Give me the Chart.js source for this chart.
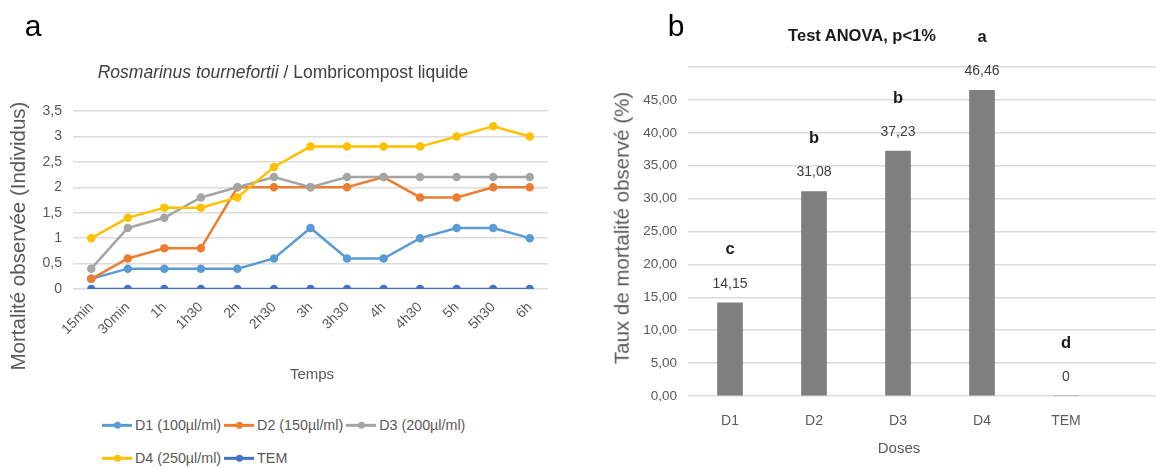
<!DOCTYPE html>
<html><head><meta charset="utf-8">
<script src="https://cdn.jsdelivr.net/npm/chart.js@4.4.1/dist/chart.umd.min.js"></script>
<style>
html,body{margin:0;padding:0;background:#fff;width:1156px;height:468px;overflow:hidden;position:relative}
canvas{position:absolute}
.t{position:absolute;white-space:nowrap;color:#595959;transform:translate(-50%,-50%);line-height:1}
.row{position:absolute;left:102px;white-space:nowrap;color:#595959;line-height:1;transform:translateY(-50%);display:flex;align-items:center}
.sw{display:inline-block;position:relative;width:30px;height:3px;margin-right:3px}
.sw i{position:absolute;left:12px;top:-2px;width:7px;height:7px;border-radius:50%}
.it{margin-right:3px}
</style></head><body>
<canvas id="c1" width="580" height="400" style="left:0;top:0"></canvas>
<canvas id="c2" width="576" height="468" style="left:580px;top:0"></canvas>
<div id="texts"></div>
<script>
// ---------- data ----------
const timeLabels = ['15min','30min','1h','1h30','2h','2h30','3h','3h30','4h','4h30','5h','5h30','6h'];
const seriesNames = ['D1 (100µl/ml)','D2 (150µl/ml)','D3 (200µl/ml)','D4 (250µl/ml)','TEM'];
const d1  = [0.2,0.4,0.4,0.4,0.4,0.6,1.2,0.6,0.6,1.0,1.2,1.2,1.0];
const d2  = [0.2,0.6,0.8,0.8,2.0,2.0,2.0,2.0,2.2,1.8,1.8,2.0,2.0];
const d3  = [0.4,1.2,1.4,1.8,2.0,2.2,2.0,2.2,2.2,2.2,2.2,2.2,2.2];
const d4  = [1.0,1.4,1.6,1.6,1.8,2.4,2.8,2.8,2.8,2.8,3.0,3.2,3.0];
const tem = [0,0,0,0,0,0,0,0,0,0,0,0,0];
const doseLabels = ['D1','D2','D3','D4','TEM'];
const mortality = [14.15,31.08,37.23,46.46,0];
const groupLetters = ['c','b','b','a','d'];

// ---------- style ----------
const lineColors = ['#5B9BD5','#ED7D31','#A5A5A5','#FFC000','#4472C4'];
const barColor = '#7F7F7F';
const gridColor = '#DCDCDC';
const textColor = '#595959';

function hasFont(name){
  const c = document.createElement('canvas').getContext('2d');
  const s = 'abcdefghijklmnopqrstuvwxyzABCDEFGHIJKLM0123456789';
  c.font = '40px monospace'; const a = c.measureText(s).width;
  c.font = '40px "' + name + '", monospace'; const b = c.measureText(s).width;
  return Math.abs(a - b) > 0.5;
}
const NARROW = hasFont('Liberation Sans Narrow');
const FAM = NARROW ? '"Liberation Sans Narrow", "Liberation Sans", Arial, sans-serif' : '"Liberation Sans", Arial, sans-serif';
const REG = '"Liberation Sans", Arial, sans-serif';
const K = NARROW ? 1.22 : 1.0;
const fs = w => +(w * K).toFixed(1);

Chart.defaults.font.family = FAM;
Chart.defaults.color = textColor;

// ---------- HTML texts ----------
const T = document.getElementById('texts');
function addText(html, x, y, size, extra, fam){
  const d = document.createElement('div');
  d.className = 't';
  d.innerHTML = html;
  d.style.left = x + 'px'; d.style.top = y + 'px';
  d.style.fontSize = size + 'px';
  d.style.fontFamily = fam || FAM;
  if (extra) Object.assign(d.style, extra);
  T.appendChild(d);
  return d;
}
addText('a', 33, 26, fs(30), {color:'#000'});
addText('b', 676, 26, fs(30), {color:'#000'});
addText('<i>Rosmarinus tournefortii</i> / Lombricompost liquide', 283, 73, fs(17.5), {color:'#404040'});
addText('Mortalité observée (Individus)', 18, 236, 20.5, {transform:'translate(-50%,-50%) rotate(-90deg)'}, REG);
addText('Temps', 312, 373, fs(15));
addText('Taux de mortalité observé (%)', 622, 228, 20.5, {transform:'translate(-50%,-50%) rotate(-90deg)'}, REG);
addText('Test ANOVA, p&lt;1%', 862, 35, fs(16.5), {color:'#1a1a1a', fontWeight:'bold'});
addText('Doses', 899, 447, fs(15));

// legend (built from series names / colours)
const rows = [[0,1,2],[3,4]];
const rowY = [425, 458];
rows.forEach((r, ri) => {
  const row = document.createElement('div');
  row.className = 'row';
  row.style.top = rowY[ri] + 'px';
  row.style.fontSize = fs(14.3) + 'px';
  row.style.fontFamily = FAM;
  r.forEach(i => {
    const sw = document.createElement('span');
    sw.className = 'sw'; sw.style.background = lineColors[i];
    const dot = document.createElement('i'); dot.style.background = lineColors[i];
    sw.appendChild(dot);
    const tx = document.createElement('span');
    tx.className = 'it'; tx.textContent = seriesNames[i];
    row.appendChild(sw); row.appendChild(tx);
  });
  T.appendChild(row);
});

// ---------- chart a ----------
const lineSeries = [d1, d2, d3, d4, tem];
new Chart(document.getElementById('c1'), {
  type: 'line',
  data: {
    labels: timeLabels,
    datasets: lineSeries.map((d, i) => ({
      label: seriesNames[i], data: d,
      borderColor: lineColors[i], backgroundColor: lineColors[i],
      pointBackgroundColor: lineColors[i], pointBorderColor: lineColors[i],
      borderWidth: 2.5, pointRadius: 3, pointHoverRadius: 3, tension: 0,
      order: lineSeries.length - i
    }))
  },
  options: {
    responsive: false, animation: false, events: [],
    layout: { padding: { left: 0, right: 32, top: 111, bottom: 0 } },
    plugins: { legend: { display: false }, tooltip: { enabled: false } },
    scales: {
      x: {
        offset: true,
        grid: { display: false }, border: { display: false },
        ticks: { color: textColor, font: { size: fs(14) }, maxRotation: 45, minRotation: 45, padding: 2, autoSkip: false },
        afterFit(s) { s.height = 400 - 289; }
      },
      y: {
        min: 0, max: 3.5,
        grid: { color: gridColor, drawTicks: false, lineWidth: 1.5 }, border: { display: false },
        ticks: { stepSize: 0.5, color: textColor, font: { size: fs(14) }, padding: 11,
                 callback: v => String(v).replace('.', ',') },
        afterFit(s) { s.width = 73; }
      }
    }
  }
});

// ---------- chart b ----------
const barLabelPlugin = {
  id: 'barLabels',
  afterDatasetsDraw(chart) {
    const ctx = chart.ctx;
    const meta = chart.getDatasetMeta(0);
    ctx.save();
    ctx.textAlign = 'center';
    ctx.textBaseline = 'middle';
    meta.data.forEach((bar, i) => {
      const v = mortality[i];
      const txt = v === 0 ? '0' : v.toFixed(2).replace('.', ',');
      ctx.font = fs(14) + 'px ' + FAM;
      ctx.fillStyle = '#404040';
      ctx.fillText(txt, bar.x, bar.y - 19);
      ctx.font = 'bold ' + fs(16.5) + 'px ' + FAM;
      ctx.fillStyle = '#1a1a1a';
      ctx.fillText(groupLetters[i], bar.x, bar.y - 53);
    });
    ctx.restore();
  }
};

const catW = 84;
new Chart(document.getElementById('c2'), {
  type: 'bar',
  data: {
    datasets: [{
      label: 'Taux de mortalité',
      data: mortality.map((v, i) => ({ x: i, y: v })),
      backgroundColor: barColor, borderWidth: 0,
      barThickness: 25
    }]
  },
  plugins: [barLabelPlugin],
  options: {
    responsive: false, animation: false, events: [],
    layout: { padding: { left: 0, right: 0, top: 67, bottom: 0 } },
    plugins: { legend: { display: false }, tooltip: { enabled: false } },
    scales: {
      x: {
        type: 'linear', offset: false, min: -0.5, max: -0.5 + (576 - 108) / catW,
        grid: { display: false, offset: false }, border: { display: false },
        afterBuildTicks(s) { s.ticks = doseLabels.map((_, i) => ({ value: i })); },
        ticks: { color: textColor, font: { size: fs(14) }, maxRotation: 0, autoSkip: false, padding: 9,
                 callback: v => doseLabels[v] !== undefined ? doseLabels[v] : '' },
        afterFit(s) { s.height = 468 - 396; }
      },
      y: {
        min: 0, max: 50,
        grid: { color: gridColor, drawTicks: false, lineWidth: 1.5 }, border: { display: false },
        ticks: { stepSize: 5, color: textColor, font: { size: fs(13.5) }, padding: 11,
                 callback: v => v === 50 ? '' : Number(v).toFixed(2).replace('.', ',') },
        afterFit(s) { s.width = 108; }
      }
    }
  }
});
</script>
</body></html>
